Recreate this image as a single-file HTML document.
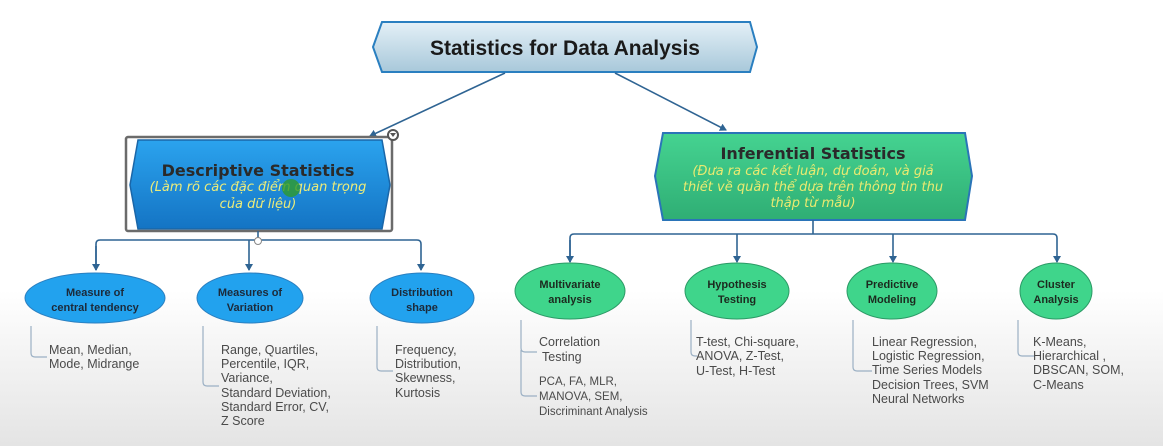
<!DOCTYPE html>
<html><head><meta charset="utf-8"><style>
html,body{margin:0;padding:0;}
body{width:1163px;height:446px;overflow:hidden;background:linear-gradient(#fff 0,#fff 290px,#e4e4e4 446px);}
svg{display:block;font-family:"Liberation Sans","DejaVu Sans",sans-serif;}
</style></head><body>
<svg width="1163" height="446" viewBox="0 0 1163 446">
<defs>
<linearGradient id="gt" x1="0" y1="0" x2="0" y2="1"><stop offset="0" stop-color="#e4f0f7"/><stop offset="1" stop-color="#a8c8da"/></linearGradient>
<linearGradient id="gb" x1="0" y1="0" x2="0" y2="1"><stop offset="0" stop-color="#2ba3ee"/><stop offset="1" stop-color="#1474c4"/></linearGradient>
<linearGradient id="gg" x1="0" y1="0" x2="0" y2="1"><stop offset="0" stop-color="#45d391"/><stop offset="1" stop-color="#2fae74"/></linearGradient>
<marker id="ar" markerWidth="8" markerHeight="8" refX="6" refY="4" orient="auto" markerUnits="userSpaceOnUse"><path d="M0,0 L7,4 L0,8 Z" fill="#2f6493"/></marker>
</defs>
<polygon points="373,47 382,22 750,22 757,47 750,72 382,72" fill="url(#gt)" stroke="#2a7fc0" stroke-width="2"/>
<text x="565" y="55" text-anchor="middle" font-size="21" font-weight="bold" fill="#1a1a1a">Statistics for Data Analysis</text>
<line x1="505" y1="73" x2="370" y2="136" stroke="#2f6493" stroke-width="1.6" marker-end="url(#ar)"/>
<line x1="615" y1="73" x2="726" y2="130" stroke="#2f6493" stroke-width="1.6" marker-end="url(#ar)"/>
<polygon points="130,185 138,140 382,140 390,185 382,229 138,229" fill="url(#gb)" stroke="#1a66a8" stroke-width="1.5"/>
<rect x="126" y="137" width="266" height="94" fill="none" stroke="#6b6b6b" stroke-width="2.5" rx="2"/>
<circle cx="393" cy="135" r="5" fill="#fff" stroke="#555" stroke-width="2"/>
<path d="M390,133 L396,133 L393,137 Z" fill="#555"/>
<text x="258" y="176" text-anchor="middle" font-size="16" font-weight="bold" fill="#2a2a2a" font-family="DejaVu Sans,sans-serif">Descriptive Statistics</text>
<text x="258" y="191" text-anchor="middle" font-size="13" font-style="italic" fill="#ecec7a" font-family="DejaVu Sans,sans-serif">(Làm rõ các đặc điểm quan trọng</text>
<text x="258" y="208" text-anchor="middle" font-size="13" font-style="italic" fill="#ecec7a" font-family="DejaVu Sans,sans-serif">của dữ liệu)</text>
<circle cx="291" cy="188" r="9" fill="#2f9a2a" opacity="0.8"/>
<polygon points="655,176 663,133 965,133 972,176 965,220 663,220" fill="url(#gg)" stroke="#2a74b8" stroke-width="2"/>
<text x="813" y="159" text-anchor="middle" font-size="16" font-weight="bold" fill="#2a2a2a" font-family="DejaVu Sans,sans-serif">Inferential Statistics</text>
<text x="813" y="175" text-anchor="middle" font-size="13" font-style="italic" fill="#eaea70" font-family="DejaVu Sans,sans-serif">(Đưa ra các kết luận, dự đoán, và giả</text>
<text x="813" y="191" text-anchor="middle" font-size="13" font-style="italic" fill="#eaea70" font-family="DejaVu Sans,sans-serif">thiết về quần thể dựa trên thông tin thu</text>
<text x="813" y="207" text-anchor="middle" font-size="13" font-style="italic" fill="#eaea70" font-family="DejaVu Sans,sans-serif">thập từ mẫu)</text>
<g stroke="#2f6493" stroke-width="1.6" fill="none">
<line x1="258" y1="231" x2="258" y2="240"/>
<path d="M96,270 V244 Q96,240 100,240 H417 Q421,240 421,244 V270" marker-end="url(#ar)"/>
<line x1="96" y1="246" x2="96" y2="270" marker-end="url(#ar)"/>
<line x1="249" y1="240" x2="249" y2="270" marker-end="url(#ar)"/>
<line x1="813" y1="220" x2="813" y2="234"/>
<path d="M570,262 V238 Q570,234 574,234 H1053 Q1057,234 1057,238 V262" marker-end="url(#ar)"/>
<line x1="570" y1="240" x2="570" y2="262" marker-end="url(#ar)"/>
<line x1="737" y1="234" x2="737" y2="262" marker-end="url(#ar)"/>
<line x1="893" y1="234" x2="893" y2="262" marker-end="url(#ar)"/>
</g>
<circle cx="258" cy="241" r="3.5" fill="#fff" stroke="#888" stroke-width="1"/>
<g stroke="#2a7fc0" stroke-width="1" fill="#22a2ee">
<ellipse cx="95" cy="298" rx="70" ry="25"/>
<ellipse cx="250" cy="298" rx="53" ry="25"/>
<ellipse cx="422" cy="298" rx="52" ry="25"/>
</g>
<g font-size="11" font-weight="bold" fill="#1c2a3a" text-anchor="middle">
<text x="95" y="296">Measure of</text><text x="95" y="311">central tendency</text>
<text x="250" y="296">Measures of</text><text x="250" y="311">Variation</text>
<text x="422" y="296">Distribution</text><text x="422" y="311">shape</text>
</g>
<g stroke="#2c9a66" stroke-width="1" fill="#3fd58b">
<ellipse cx="570" cy="291" rx="55" ry="28"/>
<ellipse cx="737" cy="291" rx="52" ry="28"/>
<ellipse cx="892" cy="291" rx="45" ry="28"/>
<ellipse cx="1056" cy="291" rx="36" ry="28"/>
</g>
<g font-size="11" font-weight="bold" fill="#1c2a1f" text-anchor="middle">
<text x="570" y="288">Multivariate</text><text x="570" y="303">analysis</text>
<text x="737" y="288">Hypothesis</text><text x="737" y="303">Testing</text>
<text x="892" y="288">Predictive</text><text x="892" y="303">Modeling</text>
<text x="1056" y="288">Cluster</text><text x="1056" y="303">Analysis</text>
</g>
<g stroke="#9bb0c4" stroke-width="1.2" fill="none">
<path d="M31,326 V353 Q31,357 35,357 H47"/>
<path d="M203,326 V382 Q203,386 207,386 H219"/>
<path d="M377,326 V367 Q377,371 381,371 H393"/>
<path d="M521,320 V348 Q521,352 525,352 H537 M521,350 V392 Q521,396 525,396 H537"/>
<path d="M691,320 V352 Q691,356 695,356 H697"/>
<path d="M853,320 V367 Q853,371 857,371 H872"/>
<path d="M1018,320 V352 Q1018,356 1022,356 H1034"/>
</g>
<g font-size="12.5" fill="#4a4a4a">
<text x="49" y="354">Mean, Median,</text><text x="49" y="368">Mode, Midrange</text>
<text x="221" y="354">Range, Quartiles,</text><text x="221" y="368">Percentile, IQR,</text><text x="221" y="382">Variance,</text><text x="221" y="397">Standard Deviation,</text><text x="221" y="411">Standard Error, CV,</text><text x="221" y="425">Z Score</text>
<text x="395" y="354">Frequency,</text><text x="395" y="368">Distribution,</text><text x="395" y="382">Skewness,</text><text x="395" y="397">Kurtosis</text>
<text x="539" y="346">Correlation</text><text x="542" y="361"> Testing</text>
<text x="696" y="346">T-test, Chi-square,</text><text x="696" y="360">ANOVA, Z-Test,</text><text x="696" y="375">U-Test, H-Test</text>
<text x="872" y="346">Linear Regression,</text><text x="872" y="360">Logistic Regression,</text><text x="872" y="374">Time Series Models</text><text x="872" y="389">Decision Trees, SVM</text><text x="872" y="403">Neural Networks</text>
<text x="1033" y="346">K-Means,</text><text x="1033" y="360">Hierarchical ,</text><text x="1033" y="374">DBSCAN, SOM,</text><text x="1033" y="389">C-Means</text>
</g>
<g font-size="11.5" fill="#4a4a4a">
<text x="539" y="385">PCA, FA, MLR,</text><text x="539" y="400">MANOVA, SEM,</text><text x="539" y="415">Discriminant Analysis</text>
</g>
</svg>
</body></html>
